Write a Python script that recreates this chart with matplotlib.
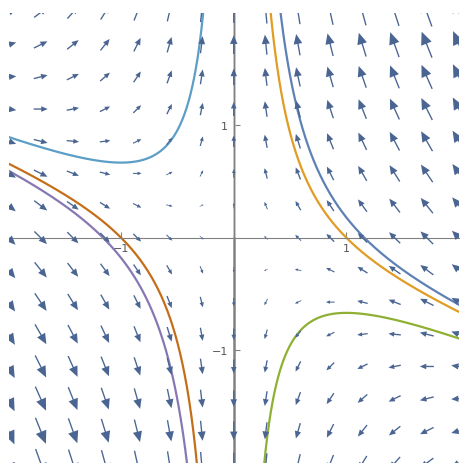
import numpy as np
import matplotlib.pyplot as plt

# linear system: x' = -x, y' = x + 1.5 y
dx_coef = -1.0
dy_x = 1.0
dy_y = 1.5

grid_n = 15
lo, hi = -2.0, 2.0

# one point on each solution curve
curve_x0 = [1.16, 1.0, 1.0, 0.0, -1.16, -1.0, -1.0, 0.0]
curve_y0 = [0.0, 0.0, -0.667, -1.0, 0.0, 0.0, 0.667, 1.0]
curve_colors = ['#5E81B5', '#E19C24', '#8FB032', '#EB6235',
                '#8778B3', '#C56E1A', '#5D9EC7', '#FFBF00']

arrow_color = '#4a6592'

fig = plt.figure(figsize=(4.63, 4.64), dpi=100)
ax = fig.add_axes([8.5 / 463, 0, 450.5 / 463, 450.5 / 464])
ax.set_xlim(lo, hi)
ax.set_ylim(lo, hi)

# solution curves, y = k x + C |x|^-b
k = dy_x / (dx_coef - dy_y)
for x0, y0, col in zip(curve_x0, curve_y0, curve_colors):
    if x0 == 0:
        ax.plot([0, 0], [0, 2.2 * np.sign(y0)], color=col, lw=1.8, zorder=2)
        continue
    C = (y0 - k * x0) * abs(x0) ** dy_y
    xs = np.sign(x0) * np.geomspace(0.03, 2.2, 800)
    ys = k * xs + C * np.abs(xs) ** (-dy_y)
    ys = np.clip(ys, -6, 6)
    ax.plot(xs, ys, color=col, lw=1.6, zorder=2)

# vector field, arrows centred on grid points, length grows with magnitude
gx = np.linspace(lo, hi, grid_n)
X, Y = np.meshgrid(gx, gx)
U = dx_coef * X
V = dy_x * X + dy_y * Y
M = np.hypot(U, V)
step = gx[1] - gx[0]
for x, y, u, v, m in zip(X.ravel(), Y.ravel(), U.ravel(), V.ravel(), M.ravel()):
    if m == 0:
        continue
    L = 0.97 * step * (m / M.max()) ** 0.7
    du, dv = u / m * L, v / m * L
    ax.arrow(x - du / 2, y - dv / 2, du, dv, width=min(0.012, 0.12 * L),
             head_width=0.4 * L, head_length=0.46 * L,
             length_includes_head=True, color=arrow_color, lw=0, zorder=3)

# axes through the origin
for s in ['top', 'right']:
    ax.spines[s].set_visible(False)
for s in ['left', 'bottom']:
    ax.spines[s].set_position('zero')
    ax.spines[s].set_color('#808080')
    ax.spines[s].set_linewidth(0.8)
    ax.spines[s].set_zorder(2.5)
ax.set_xticks([-1, 1])
ax.set_yticks([-1, 1])
ax.tick_params(direction='in', length=4, width=0.8, color='#808080',
               labelcolor='#555555', labelsize=8, pad=4)
ax.patch.set_alpha(0)

fig.savefig('out.png', dpi=100)
